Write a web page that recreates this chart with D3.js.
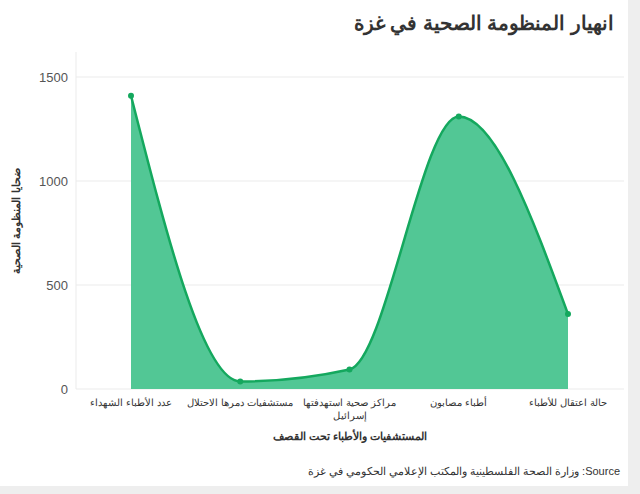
<!DOCTYPE html>
<html><head><meta charset="utf-8">
<script src="https://cdn.jsdelivr.net/npm/d3@7"></script>
<style>body{margin:0;background:#eeeeee;font-family:"Liberation Sans",Arial,sans-serif}</style>
</head><body>
<script>
// data
var categories = ["عدد الأطباء الشهداء", "مستشفيات دمرها الاحتلال", "مراكز صحية استهدفتها إسرائيل", "أطباء مصابون", "حالة اعتقال للأطباء"];
var values = [1410, 36, 94, 1310, 360];
var yTicks = [0, 500, 1000, 1500];

var svg = d3.select("body").append("svg").attr("width", 640).attr("height", 494);
svg.append("rect").attr("width", 628).attr("height", 486).attr("fill", "#fff");

var x = d3.scalePoint().domain(categories).range([131, 568]);
var y = d3.scaleLinear().domain([0, 1500]).range([389, 77]);

svg.append("text").attr("x", 614).attr("y", 30).attr("text-anchor", "end")
  .attr("font-size", 20).attr("font-weight", "bold").attr("fill", "#333").text("انهيار المنظومة الصحية في غزة");

// grid
svg.selectAll(".grid").data(yTicks).enter().append("line")
  .attr("x1", 76).attr("x2", 624).attr("y1", d => y(d)).attr("y2", d => y(d))
  .attr("stroke", "#ebebeb");
svg.append("line").attr("x1", 76).attr("x2", 76).attr("y1", 52).attr("y2", 389).attr("stroke", "#ebebeb");
svg.selectAll(".yt").data(yTicks).enter().append("text")
  .attr("x", 68).attr("y", d => y(d) + 5).attr("text-anchor", "end")
  .attr("font-size", 13).attr("fill", "#555").text(d => d);

var data = categories.map((c, i) => ({c: c, v: values[i]}));
svg.append("path").datum(data)
  .attr("d", d3.area().x(d => x(d.c)).y0(y(0)).y1(d => y(d.v)).curve(d3.curveMonotoneX))
  .attr("fill", "#52c795");
svg.append("path").datum(data)
  .attr("d", d3.line().x(d => x(d.c)).y(d => y(d.v)).curve(d3.curveMonotoneX))
  .attr("fill", "none").attr("stroke", "#14a85e").attr("stroke-width", 2.5);
svg.selectAll(".pt").data(data).enter().append("circle")
  .attr("cx", d => x(d.c)).attr("cy", d => y(d.v)).attr("r", 3).attr("fill", "#14a85e");

// x labels
svg.selectAll(".xl").data(categories).enter().append("text")
  .attr("x", d => x(d)).attr("y", 406).attr("text-anchor", "middle")
  .attr("font-size", 10).attr("fill", "#333").attr("direction", "rtl")
  .each(function(d) {
    var t = d3.select(this);
    if (d === categories[2]) {
      t.append("tspan").attr("x", x(d)).attr("dy", 0).text("مراكز صحية استهدفتها");
      t.append("tspan").attr("x", x(d)).attr("dy", 13).text("إسرائيل");
    } else t.text(d);
  });

svg.append("text").attr("x", 350).attr("y", 440).attr("text-anchor", "middle")
  .attr("font-size", 11).attr("font-weight", "bold").attr("fill", "#333").text("المستشفيات والأطباء تحت القصف");
svg.append("text").attr("transform", "translate(20,221) rotate(-90)").attr("text-anchor", "middle")
  .attr("font-size", 11).attr("font-weight", "bold").attr("fill", "#333").text("ضحايا المنظومة الصحية");
svg.append("text").attr("x", 620).attr("y", 475).attr("text-anchor", "end")
  .attr("font-size", 11).attr("fill", "#333").attr("direction", "ltr")
  .text("وزارة الصحة الفلسطينية والمكتب الإعلامي الحكومي في غزة :Source");
</script>
</body></html>
